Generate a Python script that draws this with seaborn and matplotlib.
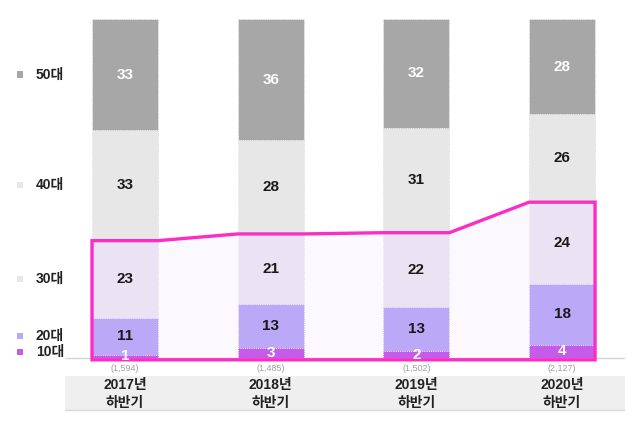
import matplotlib
matplotlib.use("Agg")
import matplotlib.pyplot as plt
import matplotlib.transforms as mtransforms
from matplotlib.patches import Rectangle, Polygon
import seaborn as sns
import numpy as np
import pandas as pd

# ---------------- data ----------------
periods = ["2017년\n하반기", "2018년\n하반기", "2019년\n하반기", "2020년\n하반기"]
counts = ["(1,594)", "(1,485)", "(1,502)", "(2,127)"]
age_groups = ["10대", "20대", "30대", "40대", "50대"]
teens = [1, 3, 2, 4]
twenties = [11, 13, 13, 18]
thirties = [23, 21, 22, 24]
forties = [33, 28, 31, 26]
fifties = [33, 36, 32, 28]

colors = ["#c55ce9", "#bba9f8", "#e9e3f4", "#e7e7e7", "#a7a7a7"]
label_colors = ["white", "#1a1a1a", "#1a1a1a", "#1a1a1a", "white"]

series = [teens, twenties, thirties, forties, fifties]
vals = np.array(series, dtype=float)
totals = vals.sum(axis=0)
pct = vals / totals * 100
cum = np.cumsum(pct, axis=0)

sns.set_theme(style="white")
plt.rcParams["font.family"] = ["Liberation Sans", "Noto Sans CJK KR", "DejaVu Sans"]

fig = plt.figure(figsize=(6.4, 4.22), dpi=100)
ax = fig.add_axes([65 / 640, 10 / 422, (625 - 65) / 640, (412 - 10) / 422])

bar_w = 0.453
x_idx = np.arange(len(periods))

# polygon highlight (10~30대) drawn from data
c30 = cum[2]
pts = [(x_idx[0] - bar_w / 2, -0.5)]
for i in x_idx:
    pts.append((i - bar_w / 2, c30[i]))
    pts.append((i + bar_w / 2, c30[i]))
pts.append((x_idx[-1] + bar_w / 2, -0.5))
ax.add_patch(Polygon(pts, closed=True, facecolor="#fbf9fe", edgecolor="none", zorder=0.5))

# stacked bars: cumulative from top down
for k in range(len(age_groups) - 1, -1, -1):
    df = pd.DataFrame({"period": periods, "value": cum[k]})
    sns.barplot(data=df, x="period", y="value", color=colors[k], width=bar_w,
                saturation=1, ax=ax, zorder=2, edgecolor="white",
                linewidth=0.6, linestyle=":")

ax.add_patch(Polygon(pts, closed=True, facecolor="none", edgecolor="#fb2dc5",
                     linewidth=2.4, zorder=4, joinstyle="miter"))

# value labels
for k in range(len(age_groups)):
    lows = cum[k] - pct[k]
    for i in x_idx:
        y = (lows[i] + cum[k][i]) / 2
        ax.text(i, y, f"{int(vals[k][i])}", ha="center", va="center",
                fontsize=11, fontweight="bold", color=label_colors[k], zorder=5)

# baseline
ax.axhline(0, color="#d4d4d4", linewidth=1, zorder=1)

# counts
for i in x_idx:
    ax.text(i, -3.2, counts[i], ha="center", va="center", fontsize=6.5,
            color="#a0a0a0", zorder=5)

# band with category labels
ax.add_patch(Rectangle((-0.42, -15.4), 3.86, 10.0, facecolor="#efefef",
                       edgecolor="none", zorder=1))
ax.plot([-0.42, 3.44], [-15.4, -15.4], color="#d8d8d8", linewidth=1, zorder=1)
for i in x_idx:
    ax.text(i, -10.6, periods[i], ha="center", va="center", fontsize=10,
            fontweight="bold", color="#222222", linespacing=1.3, zorder=5)

# legend labels aligned with first bar's segments
trans = mtransforms.blended_transform_factory(fig.transFigure, ax.transData)
legend_y = [(cum[k][0] - pct[k][0] / 2) for k in range(len(age_groups))]
legend_y[0] = legend_y[0] + 1.2
for k in range(len(age_groups)):
    fig.patches.append(Rectangle((17 / 640, legend_y[k] - 0.9), 6 / 640, 1.9,
                                 transform=trans, facecolor=colors[k], edgecolor="none",
                                 figure=fig))
    fig.text(36 / 640, legend_y[k], age_groups[k], transform=trans, ha="left",
             va="center", fontsize=10, fontweight="bold", color="#222222")

ax.set_xlim(-0.412, 3.432)
ax.set_ylim(-15.9, 102.7)
ax.set_xlabel("")
ax.set_ylabel("")
ax.set_xticks([])
ax.set_yticks([])
for s in ax.spines.values():
    s.set_visible(False)
ax.patch.set_alpha(0)

fig.savefig("out.png", dpi=100)
